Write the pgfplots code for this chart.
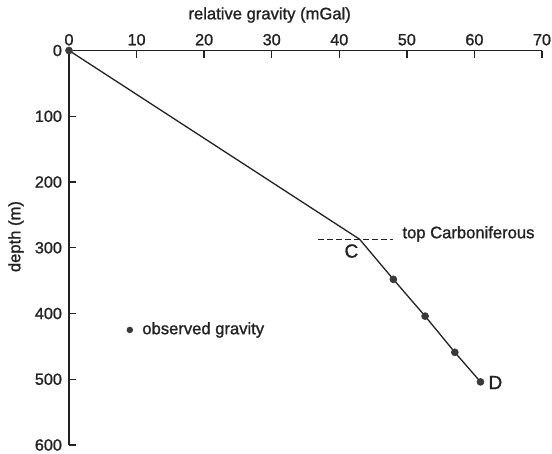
\documentclass[border=0pt]{standalone}
\usepackage{fontspec}
\setmainfont{Liberation Sans}[FakeBold=1.2]
\usepackage{pgfplots}
\pgfplotsset{compat=1.18}
\definecolor{ink}{HTML}{222222}
\definecolor{dotc}{HTML}{3A3A3A}
\begin{document}
\begin{tikzpicture}[font=\fontsize{8.3}{10}\selectfont]
\useasboundingbox (0,0) rectangle (276pt,227pt);
\begin{axis}[
  at={(34.5pt,4.5pt)}, anchor=south west,
  scale only axis, width=236.5pt, height=197.25pt,
  xmin=0, xmax=70, ymin=0, ymax=600,
  y dir=reverse,
  axis x line*=top, axis y line*=left,
  axis line style={-, ink, line width=0.8pt},
  tick style={ink, line width=0.7pt},
  tick align=inside, major tick length=3.5pt,
  xtick={0,10,...,70}, ytick={0,100,...,600},
  yticklabels={{0\hspace{3.5pt}},100,200,300,400,500,600},
  /pgf/number format/assume math mode=true,
  ticklabel style={font=\fontsize{8.1}{10}\selectfont, text=ink},
  xticklabel style={yshift=-1pt},
  clip=false,
]
\addplot[ink, line width=0.65pt] coordinates {(0,0) (43,287) (48,348) (52.7,404) (57.1,459) (60.9,504)};
\addplot[only marks, mark=*, mark size=1.7pt, dotc, mark options={fill=dotc}] coordinates {(0,0) (48,348) (52.7,404) (57.1,459) (60.9,504)};
\addplot[ink, line width=0.6pt, dash pattern=on 3pt off 1.5pt] coordinates {(36.9,287) (48,287)};
\addplot[only marks, mark=*, mark size=1.4pt, dotc, mark options={fill=dotc}] coordinates {(9,425)};
\node[anchor=west, text=ink, inner sep=0pt] at (axis cs:10.8,425) {observed gravity};
\node[anchor=west, text=ink, inner sep=0pt] at (axis cs:49.3,279) {top Carboniferous};
\node[text=ink, inner sep=0pt, font=\fontsize{9.5}{10}\selectfont] at (axis cs:41.8,305) {C};
\node[text=ink, inner sep=0pt, font=\fontsize{9.5}{10}\selectfont] at (axis cs:63.1,505) {D};
\node[text=ink, inner sep=0pt, yshift=17.75pt] at (axis cs:29.7,0) {relative gravity (mGal)};
\node[text=ink, inner sep=0pt, xshift=-26.5pt, rotate=90] at (axis cs:0,283) {depth (m)};
\end{axis}
\end{tikzpicture}
\end{document}
